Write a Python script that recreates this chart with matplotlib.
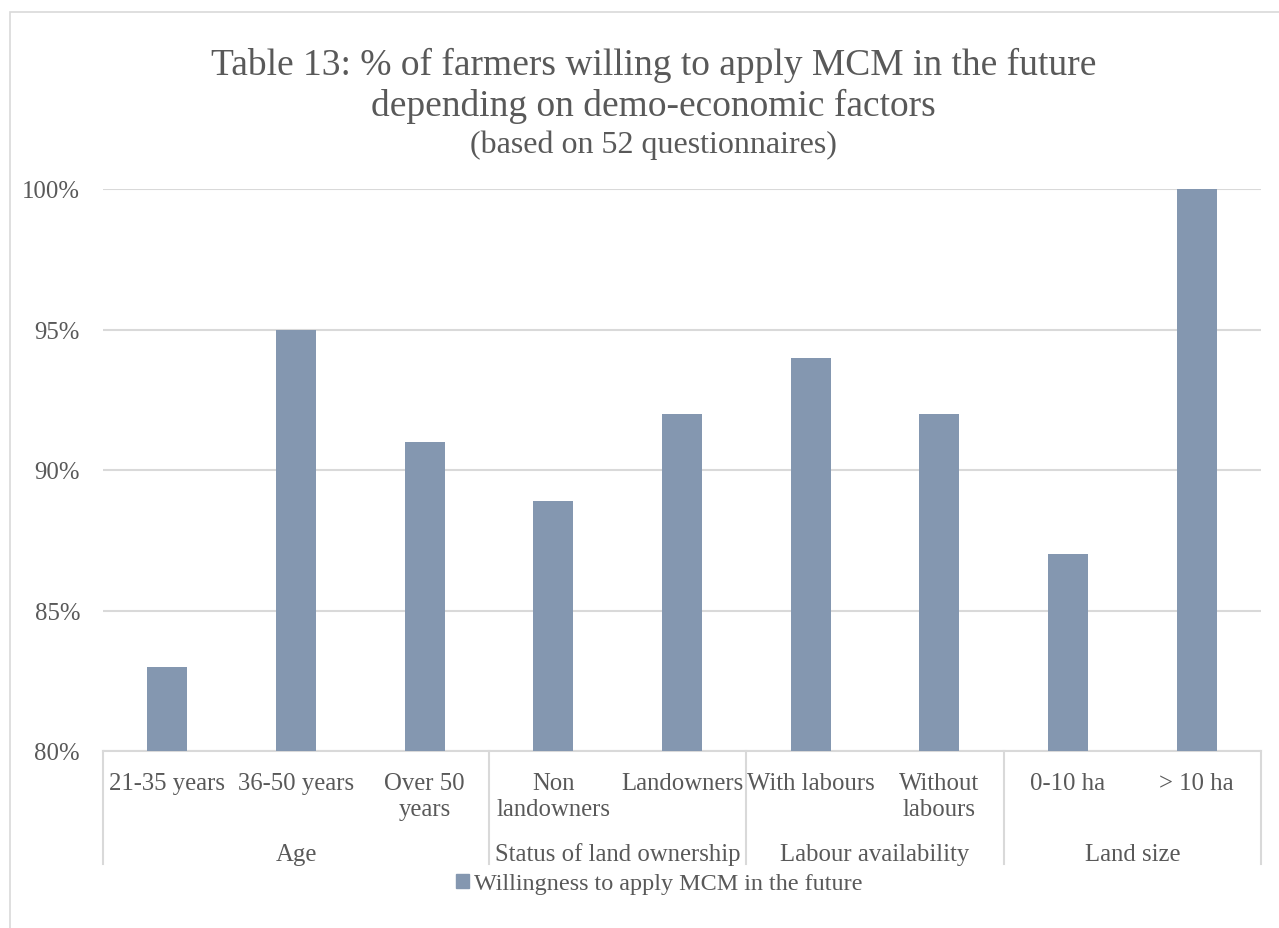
import matplotlib.pyplot as plt
import matplotlib.patches as mpatches
import numpy as np

# Survey results
groups = ['Age', 'Status of land ownership', 'Labour availability', 'Land size']
group_sizes = [3, 2, 2, 2]
categories = ['21-35 years', '36-50 years', 'Over 50\nyears', 'Non\nlandowners', 'Landowners',
              'With labours', 'Without\nlabours', '0-10 ha', '> 10 ha']
willing_pct = [83, 95, 91, 88.9, 92, 94, 92, 87, 100]
series_name = 'Willingness to apply MCM in the future'

plt.rcParams['font.family'] = ['Liberation Serif', 'DejaVu Serif']
text_color = '#595959'
grid_color = '#d9d9d9'
bar_color = '#8497b0'
fs = 17.8

W, H = 1279, 929
fig = plt.figure(figsize=(W / 100, H / 100), dpi=100)

# chart outer border
fig.patches.append(mpatches.Rectangle((10 / W, -0.1), 2, 1 - 13 / H + 0.1,
                                      transform=fig.transFigure, fill=False,
                                      edgecolor=grid_color, linewidth=1.2))

left, right, top, bottom = 103, 1261, 190, 752
ax = fig.add_axes([left / W, 1 - bottom / H, (right - left) / W, (bottom - top) / H])

x = np.arange(len(categories))
ax.bar(x, willing_pct, width=0.31, color=bar_color, zorder=3, label=series_name)

ax.set_xlim(-0.5, len(categories) - 0.5)
ax.set_ylim(80, 100)
ax.set_yticks(np.arange(80, 101, 5))
ax.set_yticklabels([f'{v}%' for v in range(80, 101, 5)])
ax.tick_params(axis='y', length=0, pad=16.5, labelsize=fs, labelcolor=text_color)
ax.set_xticks([])
ax.grid(axis='y', color=grid_color, linewidth=1.5, zorder=0)
for s in ax.spines.values():
    s.set_visible(False)

# multi-level category axis
px = lambda y: (bottom - y) / (bottom - top)
xt = ax.get_xaxis_transform()
ax.plot([-0.5, len(categories) - 0.5], [0, 0], transform=xt, color=grid_color,
        linewidth=1.5, clip_on=False, zorder=2)
bounds = np.concatenate([[0], np.cumsum(group_sizes)]) - 0.5
for b in bounds:
    ax.plot([b, b], [0, px(865)], transform=xt, color=grid_color, linewidth=1.5,
            clip_on=False)
for i, lab in enumerate(categories):
    ax.text(i, px(773), lab, transform=xt, ha='center', va='top', fontsize=fs,
            color=text_color, linespacing=1.26)
for g, lo, hi in zip(groups, bounds[:-1], bounds[1:]):
    ax.text((lo + hi) / 2, px(855), g, transform=xt, ha='center', va='center',
            fontsize=fs, color=text_color)

# title
cx = 0.5 + 14 / W
fig.text(cx, 1 - 65 / H, 'Table 13: % of farmers willing to apply MCM in the future',
         ha='center', va='center', fontsize=27, color=text_color)
fig.text(cx, 1 - 106 / H, 'depending on demo-economic factors',
         ha='center', va='center', fontsize=27, color=text_color)
fig.text(cx, 1 - 145 / H, '(based on 52 questionnaires)',
         ha='center', va='center', fontsize=23, color=text_color)

leg = fig.legend(handles=[mpatches.Patch(color=bar_color, label=series_name)],
                 loc='center', bbox_to_anchor=(659 / W, 1 - 885 / H), frameon=False,
                 fontsize=17.4, handlelength=0.55, handleheight=0.55, handletextpad=0.2)
for t in leg.get_texts():
    t.set_color(text_color)

fig.savefig('out.png', dpi=100, facecolor='white')
